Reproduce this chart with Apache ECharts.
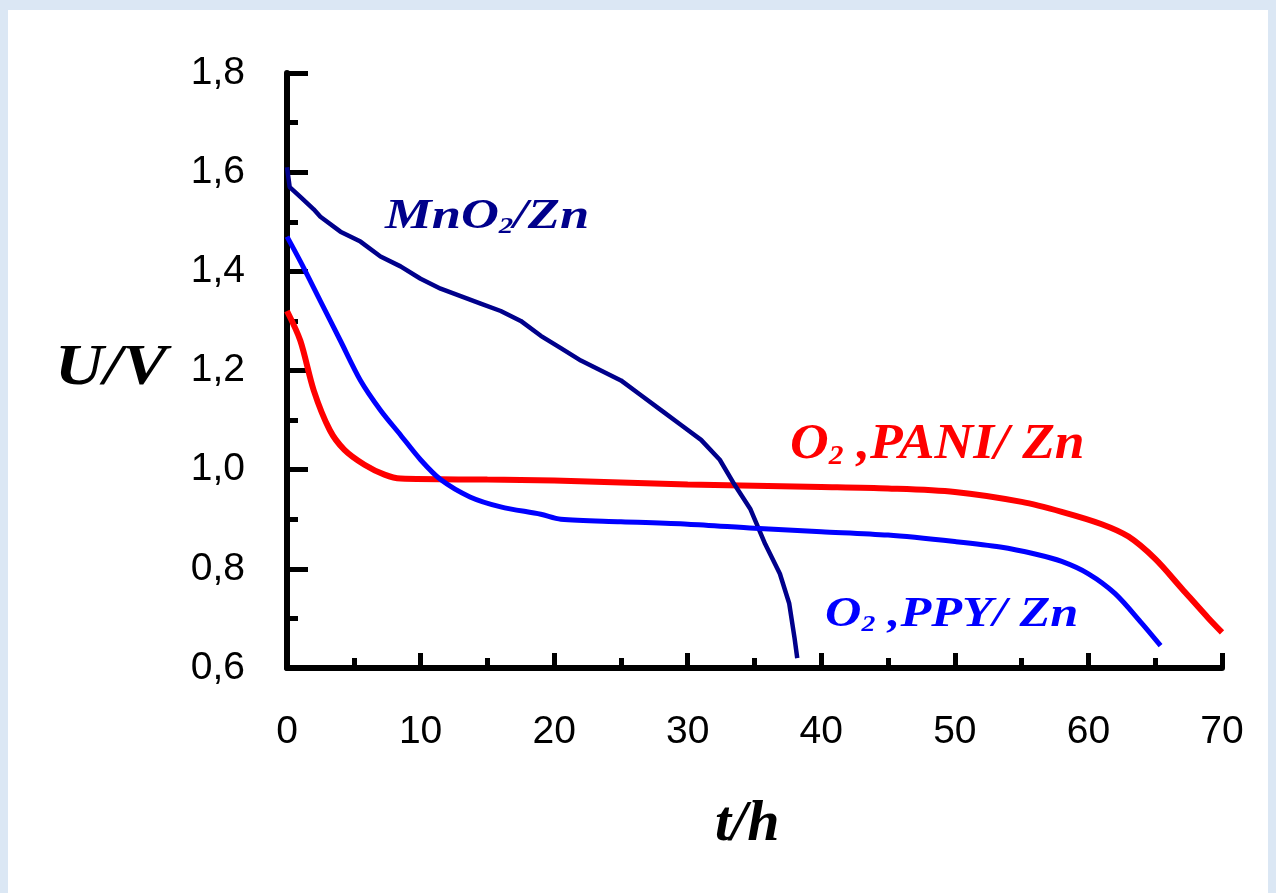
<!DOCTYPE html>
<html>
<head>
<meta charset="utf-8">
<script src="https://cdn.jsdelivr.net/npm/echarts@6/dist/echarts.min.js"></script>
<style>
html,body{margin:0;padding:0;width:1276px;height:893px;background:#dbe7f4;overflow:hidden;}
#frame{position:absolute;left:8px;top:10px;width:1260px;height:883px;background:#fff;}
#chart{position:absolute;left:0;top:0;width:1276px;height:893px;}
</style>
</head>
<body>
<div id="frame"></div>
<div id="chart"></div>
<script>
// ---- data ----
const xTicks = [0, 10, 20, 30, 40, 50, 60, 70];
const yTicks = [0.6, 0.8, 1.0, 1.2, 1.4, 1.6, 1.8];

const mno2T = [0, 0.2, 1, 2, 2.5, 4, 5.5, 7, 8.5, 10, 11.5, 13, 14.5, 16, 17.5, 19, 20.5, 22, 23.5, 25, 26.5, 28, 29.5, 31, 32.4, 33.5, 34.7, 35.8, 36.9, 37.6, 38, 38.2];
const mno2U = [1.61, 1.57, 1.55, 1.525, 1.51, 1.48, 1.46, 1.43, 1.41, 1.385, 1.365, 1.35, 1.335, 1.32, 1.30, 1.27, 1.245, 1.22, 1.20, 1.18, 1.15, 1.12, 1.09, 1.06, 1.02, 0.97, 0.92, 0.85, 0.79, 0.73, 0.66, 0.62];

const paniT = [0, 1, 2, 3.2, 4.3, 5.8, 7.3, 8.5, 15, 20, 30, 40, 45, 50, 55, 58, 61, 63, 65, 67, 69, 70];
const paniU = [1.32, 1.26, 1.16, 1.08, 1.04, 1.01, 0.99, 0.982, 0.98, 0.978, 0.97, 0.965, 0.962, 0.955, 0.935, 0.915, 0.89, 0.865, 0.82, 0.76, 0.70, 0.672];

const ppyT = [0, 1, 2.5, 4, 5.5, 7, 8.5, 10, 11.5, 13.7, 16, 19, 20.5, 25, 30, 35, 40, 45, 50, 53.4, 56, 58, 60, 62, 64, 65.4];
const ppyU = [1.47, 1.42, 1.34, 1.26, 1.18, 1.12, 1.07, 1.02, 0.98, 0.945, 0.925, 0.91, 0.90, 0.895, 0.89, 0.882, 0.875, 0.868, 0.855, 0.844, 0.83, 0.815, 0.79, 0.75, 0.69, 0.645];

const zip = (a, b) => a.map((t, i) => [t, b[i]]);

const chart = echarts.init(document.getElementById('chart'), null, {renderer: 'canvas'});
const serif = '"Liberation Serif", "DejaVu Serif", serif';
const sans = '"Liberation Sans", Arial, sans-serif';

function nameText(parts, color, size) {
  return {
    rich: {
      n: {fontFamily: serif, fontStyle: 'italic', fontWeight: 'bold', fontSize: size, fill: color, lineHeight: size * 1.1},
      s: {fontFamily: serif, fontStyle: 'italic', fontWeight: 'bold', fontSize: size * 0.55, fill: color, padding: [size * 0.45, 0, 0, 0], lineHeight: size * 1.1}
    },
    text: parts
  };
}

chart.setOption({
  backgroundColor: 'transparent',
  animation: false,
  grid: {left: 287, right: 54, top: 73, bottom: 225, containLabel: false},
  xAxis: {
    type: 'value', min: 0, max: 70, interval: 10,
    axisLine: {show: true, onZero: false, lineStyle: {color: '#000', width: 6}},
    axisTick: {show: true, inside: true, length: 15, lineStyle: {color: '#000', width: 5}},
    minorTick: {show: true, splitNumber: 2, length: 10, lineStyle: {color: '#000', width: 5}},
    splitLine: {show: false},
    axisLabel: {margin: 45, fontFamily: sans, fontSize: 39, color: '#000', formatter: v => xTicks.includes(v) ? String(v) : ''}
  },
  yAxis: {
    type: 'value', min: 0.6, max: 1.8, interval: 0.2,
    axisLine: {show: true, onZero: false, lineStyle: {color: '#000', width: 6}},
    axisTick: {show: true, inside: true, length: 21, lineStyle: {color: '#000', width: 5}},
    minorTick: {show: true, splitNumber: 2, length: 11, lineStyle: {color: '#000', width: 5}},
    splitLine: {show: false},
    axisLabel: {margin: 42, fontFamily: sans, fontSize: 39, color: '#000', formatter: v => v.toFixed(1).replace('.', ',')}
  },
  series: [
    {name: 'MnO2/Zn', type: 'line', data: zip(mno2T, mno2U), showSymbol: false, symbol: 'none', lineStyle: {color: '#00008b', width: 4.5}, z: 3},
    {name: 'O2,PANI/Zn', type: 'line', data: zip(paniT, paniU), showSymbol: false, symbol: 'none', smooth: 0.3, lineStyle: {color: '#ff0000', width: 6}, z: 2},
    {name: 'O2,PPY/Zn', type: 'line', data: zip(ppyT, ppyU), showSymbol: false, symbol: 'none', smooth: 0.3, lineStyle: {color: '#0000ff', width: 5}, z: 4}
  ],
  graphic: [
    {type: 'text', x: 55, y: 342, scaleX: 1.2, style: {text: 'U/V', font: 'italic bold 56px ' + serif, fill: '#000'}},
    {type: 'text', x: 715, y: 796, style: {text: 't/h', font: 'italic bold 58px ' + serif, fill: '#000'}},
    {type: 'text', x: 385, y: 194, scaleX: 1.25, style: nameText('{n|MnO}{s|2}{n|/Zn}', '#00008b', 42)},
    {type: 'text', x: 790, y: 418, scaleX: 1.07, style: nameText('{n|O}{s|2}{n| ,PANI/ Zn}', '#ff0000', 50)},
    {type: 'text', x: 825, y: 592, scaleX: 1.2, style: nameText('{n|O}{s|2}{n| ,PPY/ Zn}', '#0000ff', 42)}
  ]
});
</script>
</body>
</html>
